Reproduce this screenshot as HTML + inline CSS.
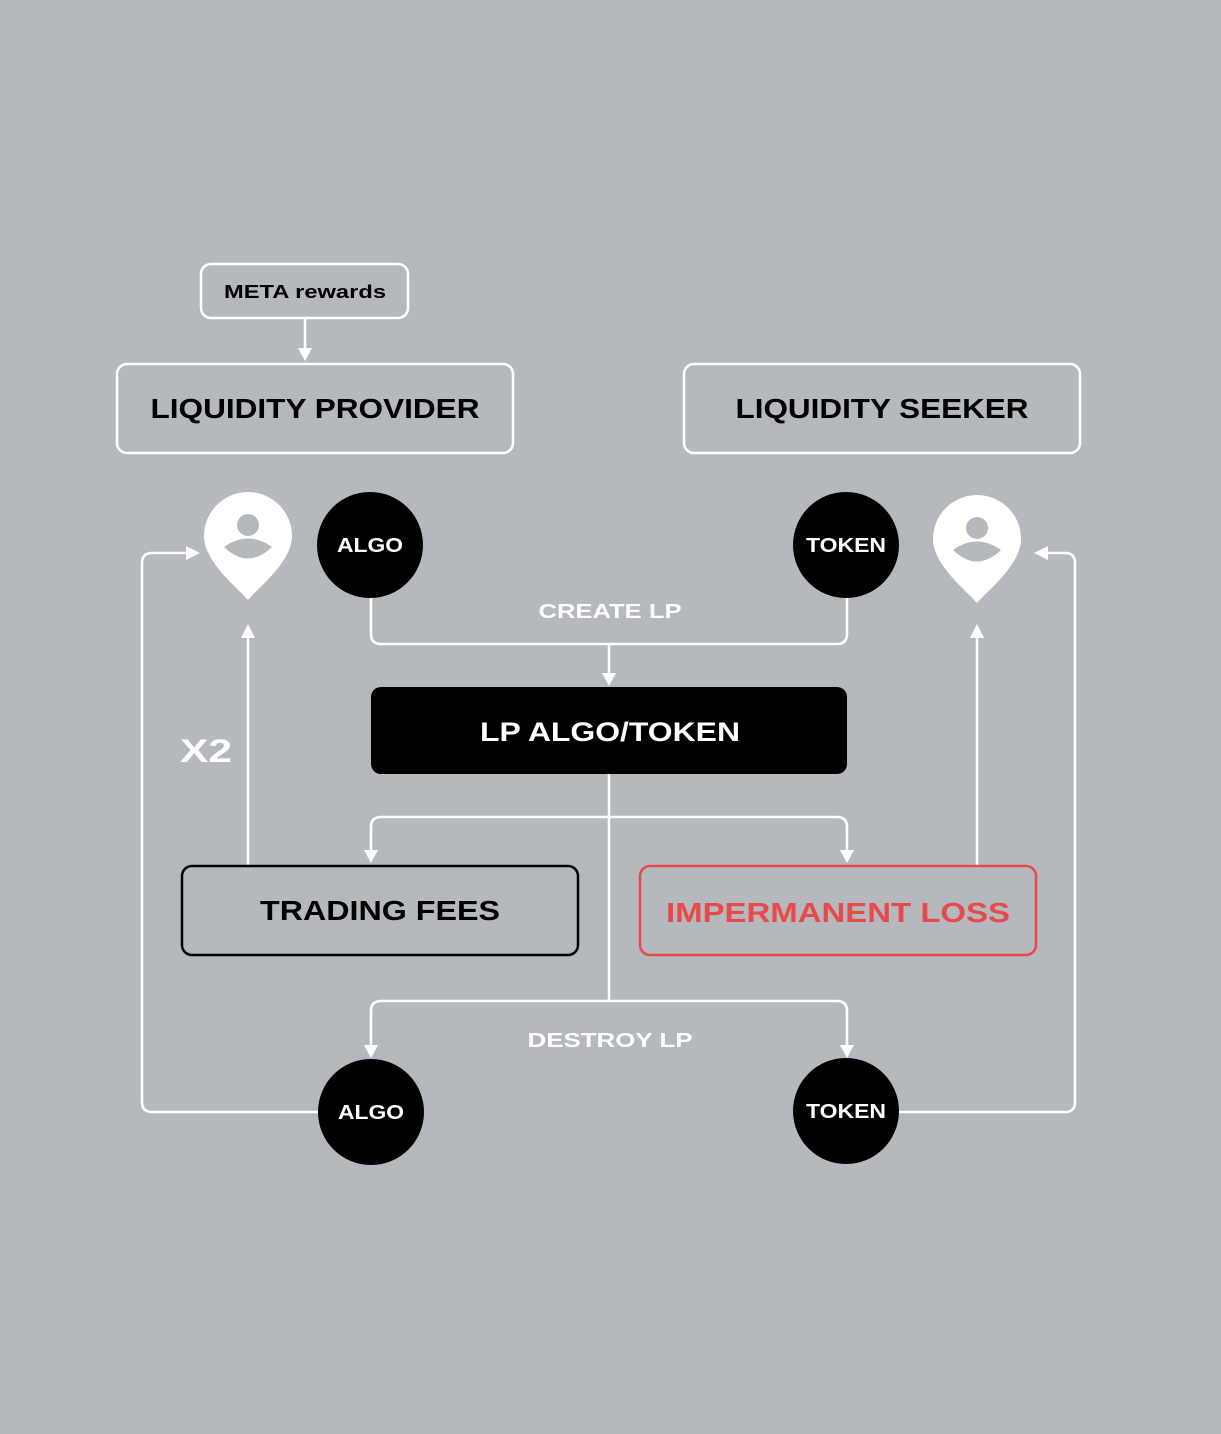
<!DOCTYPE html>
<html><head><meta charset="utf-8"><style>
html,body{margin:0;padding:0;background:#b5b8bd;}
svg{display:block}
text{font-family:"Liberation Sans",sans-serif;font-weight:bold;}
</style></head><body>
<svg width="1221" height="1434" viewBox="0 0 1221 1434" xmlns="http://www.w3.org/2000/svg">
<rect width="1221" height="1434" fill="#b5b8bd"/>
<defs>
<g id="pin">
<path d="M0,108 C-10,96 -44,70 -44,44 A44,44 0 0 1 44,44 C44,70 10,96 0,108 Z" fill="#fff"/>
<circle cx="0" cy="33" r="11" fill="#b5b8bd"/>
<path d="M-24,55 Q0,38 24,55 Q0,78 -24,55 Z" fill="#b5b8bd"/>
</g>
</defs>
<g fill="none" stroke="#fff" stroke-width="2.5">
<rect x="201" y="264" width="207" height="54" rx="10"/>
<rect x="117" y="364" width="396" height="89" rx="10"/>
<rect x="684" y="364" width="396" height="89" rx="10"/>
<line x1="305" y1="319" x2="305" y2="350"/>
<path d="M371,598 V634 Q371,644 381,644 H837 Q847,644 847,634 V598"/>
<line x1="609" y1="644" x2="609" y2="675"/>
<line x1="609" y1="774" x2="609" y2="1001"/>
<path d="M371,852 V827 Q371,817 381,817 H837 Q847,817 847,827 V852"/>
<path d="M371,1047 V1011 Q371,1001 381,1001 H837 Q847,1001 847,1011 V1047"/>
<line x1="248" y1="865" x2="248" y2="636"/>
<line x1="977" y1="865" x2="977" y2="636"/>
<path d="M318,1112 H152 Q142,1112 142,1102 V563 Q142,553 152,553 H188"/>
<path d="M899,1112 H1065 Q1075,1112 1075,1102 V563 Q1075,553 1065,553 H1046"/>
</g>
<g fill="#fff">
<path d="M298,348 L312,348 L305,361 Z"/>
<path d="M602,673 L616,673 L609,686 Z"/>
<path d="M364,850 L378,850 L371,863 Z"/>
<path d="M840,850 L854,850 L847,863 Z"/>
<path d="M364,1045 L378,1045 L371,1058 Z"/>
<path d="M840,1045 L854,1045 L847,1058 Z"/>
<path d="M241,638 L255,638 L248,624 Z"/>
<path d="M970,638 L984,638 L977,624 Z"/>
<path d="M186,546 L186,560 L200,553 Z"/>
<path d="M1048,546 L1048,560 L1034,553 Z"/>
</g>
<use href="#pin" x="248" y="492"/>
<use href="#pin" x="977" y="495"/>
<g fill="#000">
<circle cx="370" cy="545" r="53"/>
<circle cx="846" cy="545" r="53"/>
<circle cx="371" cy="1112" r="53"/>
<circle cx="846" cy="1111" r="53"/>
<rect x="371" y="687" width="476" height="87" rx="10"/>
</g>
<rect x="182" y="866" width="396" height="89" rx="10" fill="none" stroke="#000" stroke-width="2.5"/>
<rect x="640" y="866" width="396" height="89" rx="10" fill="none" stroke="#e84a4a" stroke-width="2.5"/>
<g text-anchor="middle">
<text x="305" y="298" font-size="18" fill="#000" textLength="162" lengthAdjust="spacingAndGlyphs">META rewards</text>
<text x="315" y="418" font-size="28" fill="#000" textLength="329" lengthAdjust="spacingAndGlyphs">LIQUIDITY PROVIDER</text>
<text x="882" y="418" font-size="28" fill="#000" textLength="293" lengthAdjust="spacingAndGlyphs">LIQUIDITY SEEKER</text>
<text x="370" y="552" font-size="20" fill="#fff" textLength="66" lengthAdjust="spacingAndGlyphs">ALGO</text>
<text x="846" y="552" font-size="20" fill="#fff" textLength="80" lengthAdjust="spacingAndGlyphs">TOKEN</text>
<text x="610" y="618" font-size="20" fill="#fff" textLength="143" lengthAdjust="spacingAndGlyphs">CREATE LP</text>
<text x="610" y="741" font-size="27" fill="#fff" textLength="260" lengthAdjust="spacingAndGlyphs">LP ALGO/TOKEN</text>
<text x="206" y="762" font-size="32" fill="#fff" textLength="52" lengthAdjust="spacingAndGlyphs">X2</text>
<text x="380" y="920" font-size="28" fill="#000" textLength="240" lengthAdjust="spacingAndGlyphs">TRADING FEES</text>
<text x="838" y="922" font-size="28" fill="#e84a4a" textLength="344" lengthAdjust="spacingAndGlyphs">IMPERMANENT LOSS</text>
<text x="610" y="1047" font-size="20" fill="#fff" textLength="165" lengthAdjust="spacingAndGlyphs">DESTROY LP</text>
<text x="371" y="1119" font-size="20" fill="#fff" textLength="66" lengthAdjust="spacingAndGlyphs">ALGO</text>
<text x="846" y="1118" font-size="20" fill="#fff" textLength="80" lengthAdjust="spacingAndGlyphs">TOKEN</text>
</g>
</svg>
</body></html>
